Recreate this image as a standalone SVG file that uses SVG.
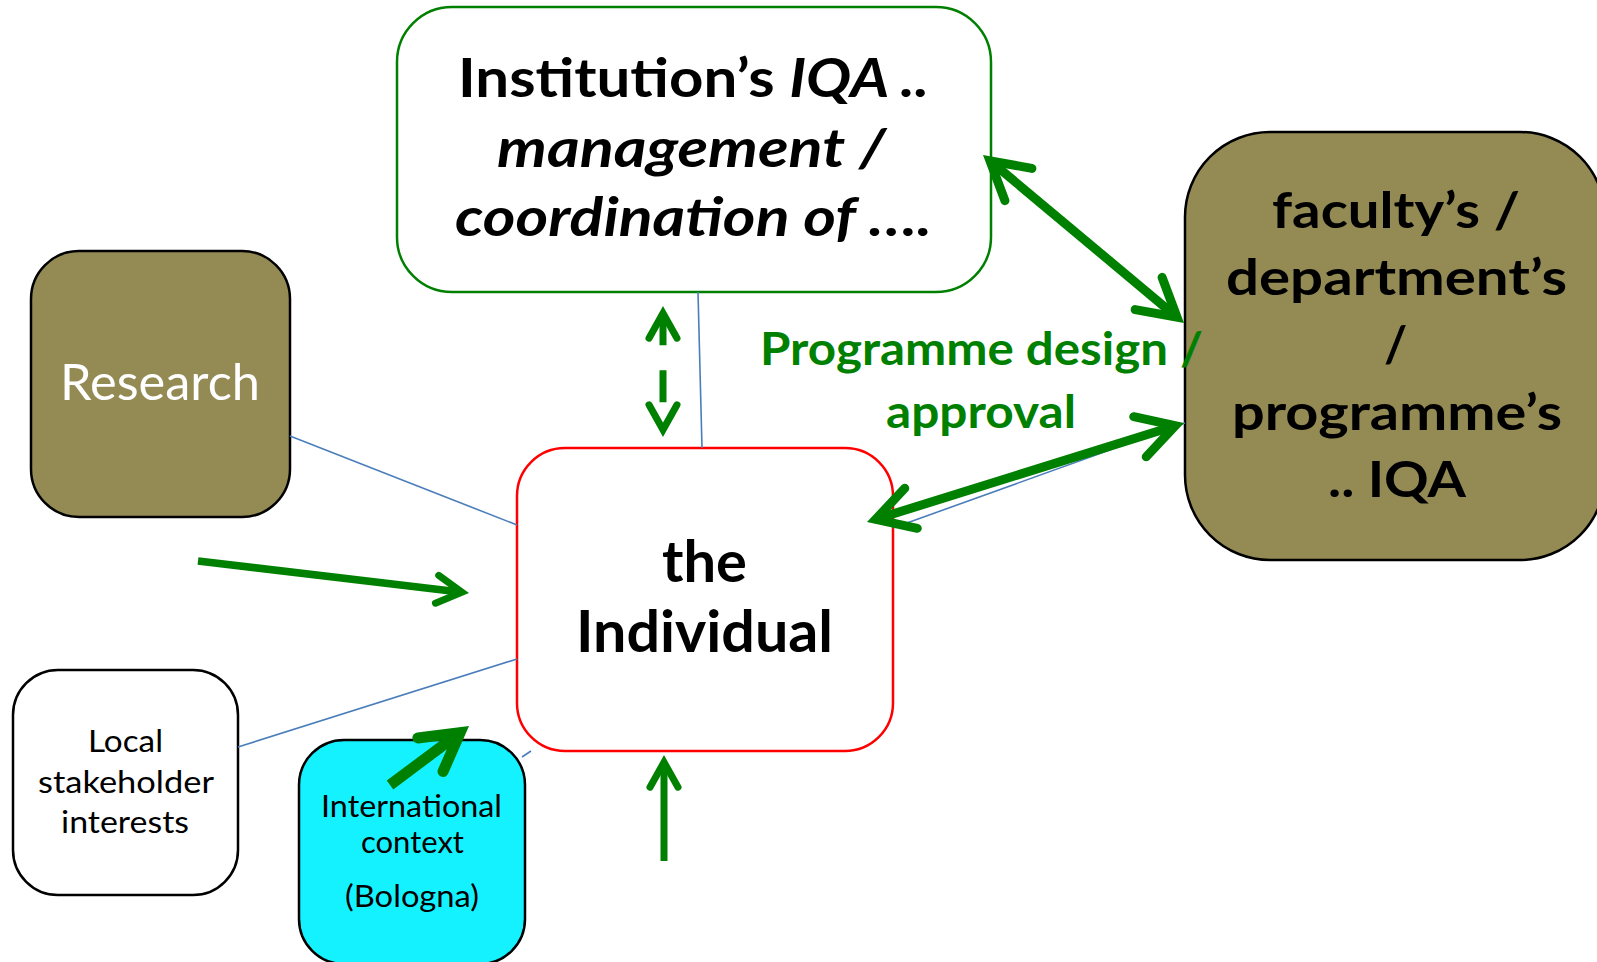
<svg xmlns="http://www.w3.org/2000/svg" width="1597" height="962" viewBox="0 0 1597 962">
<style>
  .box{stroke-width:2.5}
  .t{font-family:Lato,"Liberation Sans",sans-serif}
  .b{font-weight:bold}
  .i{font-style:italic}
  .link{stroke:#4A7EBB;stroke-width:1.6;fill:none}
  .arr{stroke:#008000;fill:none;stroke-linecap:butt}
</style>
<defs>
  <marker id="hA" markerUnits="userSpaceOnUse" orient="auto-start-reverse" overflow="visible" markerWidth="1" markerHeight="1" refX="0" refY="0">
    <path d="M-37,-21 L0,0 L-37,21" fill="none" stroke="#008000" stroke-width="9" stroke-linecap="round" stroke-linejoin="miter" stroke-miterlimit="10" stroke-dasharray="none"/>
  </marker>
  <marker id="hE" markerUnits="userSpaceOnUse" orient="auto-start-reverse" overflow="visible" markerWidth="1" markerHeight="1" refX="0" refY="0">
    <path d="M-37,-21 L0,0 L-37,21" fill="none" stroke="#008000" stroke-width="11" stroke-linecap="round" stroke-linejoin="miter" stroke-miterlimit="10" stroke-dasharray="none"/>
  </marker>
  <marker id="hS" markerUnits="userSpaceOnUse" orient="auto-start-reverse" overflow="visible" markerWidth="1" markerHeight="1" refX="0" refY="0">
    <path d="M-25,-14 L0,0 L-25,14" fill="none" stroke="#008000" stroke-width="7" stroke-linecap="round" stroke-linejoin="miter" stroke-miterlimit="10" stroke-dasharray="none"/>
  </marker>
</defs>
<rect width="1597" height="962" fill="#ffffff"/>

<g id="institution">
  <rect class="box" x="397" y="7" width="594" height="285" rx="55" fill="#ffffff" stroke="#008000"/>
  <text class="t b" font-size="54" fill="#000" x="458" y="97" textLength="471" lengthAdjust="spacingAndGlyphs">Institution’s <tspan class="i">IQA ..</tspan></text>
  <text class="t b i" font-size="54" fill="#000" x="497" y="167" textLength="389" lengthAdjust="spacingAndGlyphs">management /</text>
  <text class="t b i" font-size="54" fill="#000" x="455" y="236" textLength="477" lengthAdjust="spacingAndGlyphs">coordination of ….</text>
</g>

<g id="faculty">
  <rect class="box" x="1185" y="132" width="420" height="428" rx="85" fill="#948A54" stroke="#000"/>
  <text class="t b" font-size="50" fill="#000" x="1272" y="228" textLength="248" lengthAdjust="spacingAndGlyphs">faculty’s /</text>
  <text class="t b" font-size="50" fill="#000" x="1226" y="295" textLength="341" lengthAdjust="spacingAndGlyphs">department’s</text>
  <text class="t b" font-size="50" fill="#000" x="1384" y="362">/</text>
  <text class="t b" font-size="50" fill="#000" x="1232" y="430" textLength="330" lengthAdjust="spacingAndGlyphs">programme’s</text>
  <text class="t b" font-size="50" fill="#000" x="1328" y="497" textLength="138" lengthAdjust="spacingAndGlyphs">.. IQA</text>
</g>

<g id="research">
  <rect class="box" x="31" y="251" width="259" height="266" rx="48" fill="#948A54" stroke="#000"/>
  <text class="t" font-size="50" fill="#ffffff" x="60" y="400" textLength="200" lengthAdjust="spacingAndGlyphs">Research</text>
</g>

<g id="individual">
  <rect class="box" x="517" y="448" width="376" height="303" rx="48" fill="#ffffff" stroke="#FF0000"/>
  <text class="t b" font-size="58" fill="#000" x="662" y="582" textLength="85" lengthAdjust="spacingAndGlyphs">the</text>
  <text class="t b" font-size="58" fill="#000" x="576" y="652" textLength="257" lengthAdjust="spacingAndGlyphs">Individual</text>
</g>

<g id="local">
  <rect class="box" x="13" y="670" width="225" height="225" rx="45" fill="#ffffff" stroke="#000"/>
  <text class="t" font-size="31" fill="#000" x="88" y="752" textLength="75" lengthAdjust="spacingAndGlyphs">Local</text>
  <text class="t" font-size="31" fill="#000" x="38" y="793" textLength="176" lengthAdjust="spacingAndGlyphs">stakeholder</text>
  <text class="t" font-size="31" fill="#000" x="61" y="833" textLength="128" lengthAdjust="spacingAndGlyphs">interests</text>
</g>

<g id="international">
  <rect class="box" x="299" y="740" width="226" height="224" rx="45" fill="#15F2FF" stroke="#000"/>
  <text class="t" font-size="30" fill="#000" x="321" y="817" textLength="181" lengthAdjust="spacingAndGlyphs">International</text>
  <text class="t" font-size="30" fill="#000" x="361" y="853" textLength="103" lengthAdjust="spacingAndGlyphs">context</text>
  <text class="t" font-size="30" fill="#000" x="345" y="907" textLength="134" lengthAdjust="spacingAndGlyphs">(Bologna)</text>
</g>

<g id="connectors">
  <line class="link" x1="290" y1="436" x2="517" y2="525"/>
  <line class="link" x1="238" y1="747" x2="517" y2="659"/>
  <line class="link" x1="698" y1="292" x2="702" y2="448"/>
  <line class="link" x1="893" y1="528" x2="1185" y2="423"/>
  <line class="link" x1="522" y1="757" x2="531" y2="751"/>

  <line class="arr" stroke-width="9" x1="990" y1="160.8" x2="1177" y2="317.2" marker-start="url(#hA)" marker-end="url(#hA)"/>
  <line class="arr" stroke-width="9" x1="1175.3" y1="425.7" x2="875.7" y2="519.3" marker-start="url(#hA)" marker-end="url(#hA)"/>
  <line class="arr" stroke-width="7" stroke-dasharray="32 25" x1="663" y1="313.2" x2="663" y2="429.8" marker-start="url(#hS)" marker-end="url(#hS)"/>
  <line class="arr" stroke-width="7.5" x1="198" y1="561" x2="461.9" y2="592.2" marker-end="url(#hS)"/>
  <line class="arr" stroke-width="11" x1="390" y1="785" x2="460.1" y2="732.6" marker-end="url(#hE)"/>
  <line class="arr" stroke-width="7" x1="664" y1="861" x2="664" y2="762.2" marker-end="url(#hS)"/>
</g>

<g id="label-programme">
  <text class="t b" font-size="45" fill="#008000" x="760" y="365" textLength="443" lengthAdjust="spacingAndGlyphs">Programme design /</text>
  <text class="t b" font-size="45" fill="#008000" x="886" y="428" textLength="190" lengthAdjust="spacingAndGlyphs">approval</text>
</g>
</svg>
